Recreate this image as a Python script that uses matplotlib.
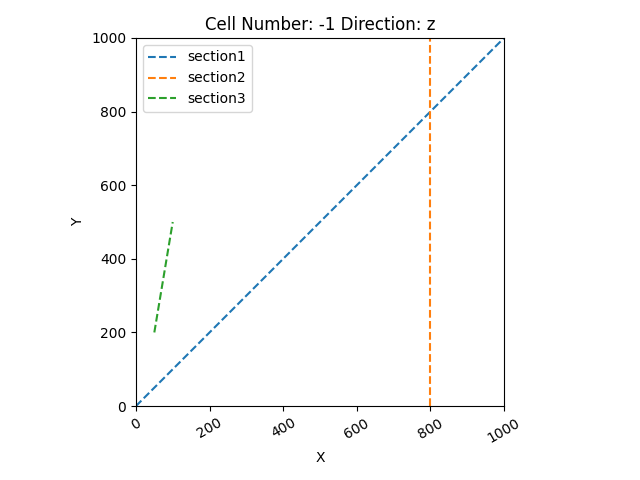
import matplotlib
matplotlib.use("Agg")
import matplotlib.pyplot as plt

sectionNames = ["section1", "section2", "section3"]
sectionX = [[0, 1000], [800, 800], [50, 100]]
sectionY = [[0, 1000], [0, 1000], [200, 500]]

cellNumber = -1
direction = "z"

fig, ax = plt.subplots(figsize=(6.4, 4.8), dpi=100)

for name, xs, ys in zip(sectionNames, sectionX, sectionY):
    ax.plot(xs, ys, linestyle="--", label=name)

ax.set_xlim(0, 1000)
ax.set_ylim(0, 1000)
ax.set_aspect("equal")
ax.set_xlabel("X")
ax.set_ylabel("Y")
ax.set_title("Cell Number: " + str(cellNumber) + " Direction: " + direction)
ax.legend(loc="upper left")
plt.xticks(rotation=30)

fig.subplots_adjust(left=0.1, right=0.9, bottom=0.154, top=0.921)
fig.savefig("out.png")
